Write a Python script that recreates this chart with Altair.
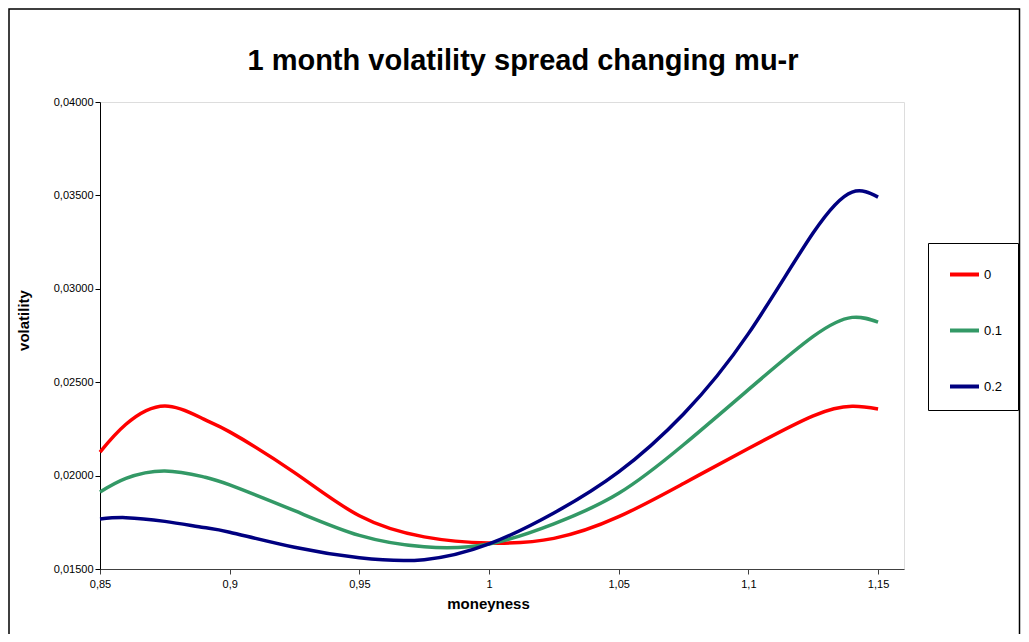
import altair as alt
import pandas as pd

# moneyness grid
moneyness = [0.85, 0.86, 0.875, 0.89, 0.9, 0.925, 0.95, 0.975, 1.0, 1.025,
             1.05, 1.075, 1.1, 1.125, 1.14, 1.15]
# volatility for mu-r = 0, 0.1, 0.2
vol_0 = [0.02126, 0.02275, 0.02373, 0.02302, 0.02234, 0.02016, 0.01785, 0.01672,
         0.01639, 0.01664, 0.01780, 0.01958, 0.02145, 0.02320, 0.02371, 0.02357]
vol_01 = [0.01912, 0.01985, 0.02025, 0.01993, 0.01950, 0.01812, 0.01680, 0.01619,
          0.01634, 0.01742, 0.01905, 0.02165, 0.02460, 0.02745, 0.02847, 0.02822]
vol_02 = [0.01768, 0.01775, 0.01755, 0.01722, 0.01697, 0.01616, 0.01560, 0.01550,
          0.01634, 0.01800, 0.02020, 0.02330, 0.02760, 0.03300, 0.03518, 0.03491]
series_names = ["0", "0.1", "0.2"]
series_colors = ["#FF0000", "#339966", "#000080"]
x_ticks = [0.85, 0.9, 0.95, 1.0, 1.05, 1.1, 1.15]
y_ticks = [0.015, 0.02, 0.025, 0.03, 0.035, 0.04]
title_text = "1 month volatility spread changing mu-r"

rows = []
for name, vals in zip(series_names, [vol_0, vol_01, vol_02]):
    for i, (m, v) in enumerate(zip(moneyness, vals)):
        rows.append({"moneyness": m, "volatility": v, "series": name, "order": i})
df = pd.DataFrame(rows)

FONT = "Liberation Sans"
W, H = 804, 467
PAD_R = 117

lines = alt.Chart(df).mark_line(strokeWidth=3.5, interpolate="natural").encode(
    x=alt.X("moneyness:Q",
            scale=alt.Scale(domain=[0.85, 1.16], nice=False, zero=False),
            axis=alt.Axis(values=x_ticks, grid=False, title="moneyness",
                          labelExpr="replace(toString(datum.value), '.', ',')",
                          titleFontSize=15, titleFontWeight="bold", titleFont=FONT,
                          titleX=388, titleY=39, titleBaseline="alphabetic",
                          titleAnchor="start", titleAlign="center",
                          labelFontSize=11, labelFont=FONT, labelColor="black",
                          tickSize=5, tickColor="#404040", domainColor="#404040",
                          labelPadding=4, labelFlush=False)),
    y=alt.Y("volatility:Q",
            scale=alt.Scale(domain=[0.015, 0.04], nice=False, zero=False),
            axis=alt.Axis(values=y_ticks, grid=False, title="volatility",
                          labelExpr="replace(format(datum.value, '.5f'), '.', ',')",
                          titleFontSize=15, titleFontWeight="bold", titleFont=FONT,
                          titleX=-72, titleY=218, titleAngle=270,
                          titleBaseline="alphabetic", titleAlign="center",
                          labelFontSize=11, labelFont=FONT, labelColor="black",
                          tickSize=5, tickColor="black", domainColor="black",
                          labelPadding=2, labelFlush=False)),
    color=alt.Color("series:N",
                    scale=alt.Scale(domain=series_names, range=series_colors),
                    legend=alt.Legend(orient="none", legendX=828, legendY=141,
                                      title=None, strokeColor="black",
                                      fillColor="white", padding=15,
                                      symbolType="stroke", symbolSize=841,
                                      symbolStrokeWidth=4, labelFontSize=13,
                                      labelFont=FONT, labelColor="black",
                                      labelOffset=3, rowPadding=31,
                                      symbolOffset=5)),
    order="order:Q",
)

frame = alt.Chart(pd.DataFrame({"a": [0]})).mark_rect(
    filled=False, stroke="black", strokeWidth=1.5
).encode(x=alt.value(-91), x2=alt.value(W + PAD_R - 1.5), y=alt.value(-93),
         y2=alt.value(H + 90))

title = alt.Chart(pd.DataFrame({"t": [title_text]})).mark_text(
    fontSize=29, font=FONT, fontWeight="bold", align="center",
    baseline="alphabetic", color="black"
).encode(text="t:N", x=alt.value(W / 2 + 21), y=alt.value(-32))

chart = alt.layer(frame, lines, title).properties(
    width=W, height=H,
    autosize=alt.AutoSizeParams(type="none"),
    padding={"left": 92, "top": 94, "right": PAD_R, "bottom": 65},
).configure_view(stroke="#808080", strokeWidth=1.5).configure(background="white")

chart.save("out.html", embed_options={"renderer": "svg", "actions": False})
